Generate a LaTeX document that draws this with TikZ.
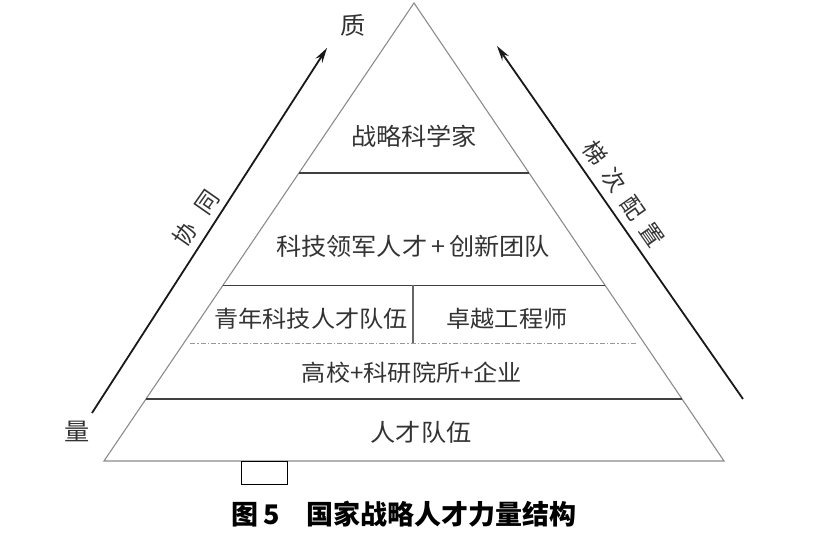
\documentclass[tikz,border=0pt]{standalone}
\usepackage{fontspec}
\setmainfont{Noto Sans CJK SC}[FakeStretch=1.05]
\newfontfamily\widecjk{Noto Sans CJK SC}[LetterSpace=45]
\newfontfamily\capfont{Noto Sans CJK SC}
\usetikzlibrary{calc,arrows.meta}

\begin{document}
\begin{tikzpicture}[x=1pt,y=-1pt,
  >={Stealth[length=15pt,width=8pt]},
  side/.style={draw=black!45,line width=1.1pt},
  layer/.style={draw=black!75,line width=1.8pt},
  lbl/.style={text=black!80,font=\fontsize{24}{28}\selectfont},
  small/.style={text=black!80,font=\fontsize{23}{27}\selectfont},
  axis/.style={->,black!90,line width=1.8pt}]

  \useasboundingbox (0,0) rectangle (815,553);

  % pyramid
  \coordinate (apex) at (414,3);
  \coordinate (bl) at (104,461);
  \coordinate (br) at (724,461);
  \draw[side] (apex) -- (bl) -- (br) -- cycle;

  \foreach \t in {0.372,0.617,0.864}
    \draw[layer] ($(apex)!\t!(bl)$) -- ($(apex)!\t!(br)$);

  \coordinate (split) at (413,285);
  \coordinate (splitend) at (413,343);
  \draw[draw=black!60,line width=1.2pt] (split) -- (splitend);
  \draw[draw=black!40,line width=1.2pt,dash pattern=on 5pt off 2pt on 1.5pt off 2pt]
    ($(apex)!0.744!(bl)+(7,0)$) -- ($(apex)!0.744!(br)+(-7,0)$);

  \node[lbl] (sci) at (414,136) {战略科学家};
  \node[lbl] (lead) at (413,246) {科技领军人才\,+\,创新团队};
  \node[small] (youth) at (311,319) {青年科技人才队伍};
  \node[small] (eng) at (507,319) {卓越工程师};
  \node[small] (inst) at (412,373) {高校+科研院所+企业};
  \node[lbl] (team) at (421,432) {人才队伍};

  % axes
  \coordinate (llo) at (92,413);
  \coordinate (lhi) at (327,48);
  \coordinate (rlo) at (743,399);
  \coordinate (rhi) at (497,46);
  \path[axis] (llo) edge (lhi);
  \path[axis] (rlo) edge (rhi);

  \node[lbl] (qual) at (353,25) {质};
  \node[lbl] (quan) at (77,431) {量};
  \node[lbl,font=\widecjk\fontsize{23}{27}\selectfont,rotate=55] (coop) at (196,218) {协 同};
  \node[lbl,font=\widecjk\fontsize{23}{27}\selectfont,rotate=-55] (tier) at (624,194) {梯次配置};

  \draw[black,line width=1pt] (241,462) rectangle (287,485);

  \node[font=\capfont\bfseries\fontsize{27}{30}\selectfont] (cap) at (404,514) {图\,5\quad 国家战略人才力量结构};

\end{tikzpicture}
\end{document}
